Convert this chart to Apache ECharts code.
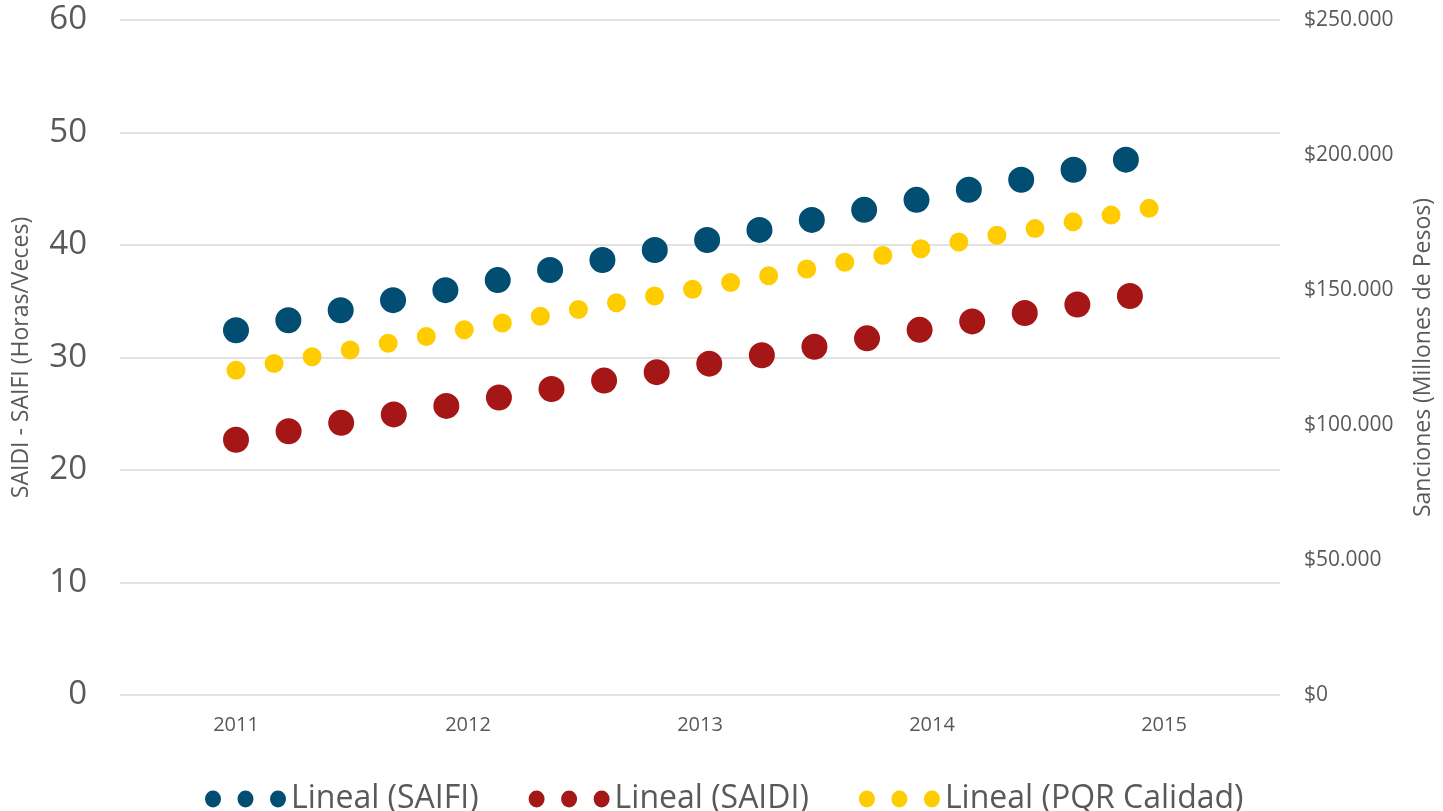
<!DOCTYPE html>
<html>
<head>
<meta charset="utf-8">
<script src="https://cdn.jsdelivr.net/npm/echarts@6/dist/echarts.min.js"></script>
<style>
html,body{margin:0;padding:0;background:#fff;}
#chart{width:1443px;height:811px;}
</style>
</head>
<body>
<div id="chart"></div>
<script>
// Categories (years)
const years = ['2011', '2012', '2013', '2014', '2015'];
// Trend line end points: [x position in category units, value]
const saifiTrend = [[0, 32.42], [3.86, 47.68]];
const saidiTrend = [[0, 22.69], [3.88, 35.55]];
const pqrTrend = [[0, 120300], [3.96, 180600]];
// Axis tick setup
const leftTicks = {min: 0, max: 60, interval: 10};
const rightTicks = {min: 0, max: 250000, interval: 50000};
const seriesNames = ['Lineal (SAIFI)', 'Lineal (SAIDI)', 'Lineal (PQR Calidad)'];

const colors = ['#024d72', '#a51616', '#ffcc00'];
const grey = '#595959';
const dotsIcon = 'path://M0,8.5A8,8.5 0 1 0 16,8.5A8,8.5 0 1 0 0,8.5Z' +
  'M32.5,8.5A8,8.5 0 1 0 48.5,8.5A8,8.5 0 1 0 32.5,8.5Z' +
  'M65,8.5A8,8.5 0 1 0 81,8.5A8,8.5 0 1 0 65,8.5Z';

function money(v) {
  return '$' + String(v).replace(/\B(?=(\d{3})+(?!\d))/g, '.');
}

const chart = echarts.init(document.getElementById('chart'), null, {renderer: 'canvas'});
chart.setOption({
  animation: false,
  backgroundColor: '#ffffff',
  textStyle: {fontFamily: 'Open Sans'},
  grid: {left: 120, right: 160, top: 20, bottom: 116, containLabel: false},
  legend: {
    left: 200, top: 774,
    itemWidth: 81, itemHeight: 17, itemGap: 50,
    textStyle: {color: grey, fontSize: 32, fontFamily: 'Open Sans', lineHeight: 40},
    data: seriesNames.map(n => ({name: n, icon: dotsIcon}))
  },
  xAxis: [{
    type: 'category', data: years, boundaryGap: true,
    axisLine: {show: false}, axisTick: {show: false},
    axisLabel: {color: grey, fontSize: 20, margin: 20, fontFamily: 'Open Sans'}
  }, {
    type: 'value', min: -0.5, max: 4.5, show: false
  }],
  yAxis: [{
    type: 'value', min: leftTicks.min, max: leftTicks.max, interval: leftTicks.interval,
    position: 'left',
    name: 'SAIDI - SAIFI (Horas/Veces)', nameLocation: 'middle', nameGap: 87,
    nameTextStyle: {color: grey, fontSize: 23, fontFamily: 'Open Sans'},
    axisLine: {show: false}, axisTick: {show: false},
    axisLabel: {color: grey, fontSize: 33, margin: 33, fontFamily: 'Open Sans'},
    splitLine: {show: true, lineStyle: {color: '#d9d9d9', width: 1.5}}
  }, {
    type: 'value', min: rightTicks.min, max: rightTicks.max, interval: rightTicks.interval,
    position: 'right',
    name: 'Sanciones (Millones de Pesos)', nameLocation: 'middle', nameGap: 132,
    nameRotate: 90,
    nameTextStyle: {color: grey, fontSize: 23, fontFamily: 'Open Sans'},
    axisLine: {show: false}, axisTick: {show: false},
    axisLabel: {color: grey, fontSize: 21, margin: 24, align: 'left', fontFamily: 'Open Sans', formatter: money},
    splitLine: {show: false}
  }],
  series: [{
    name: seriesNames[0], type: 'line', xAxisIndex: 1, yAxisIndex: 0,
    data: saifiTrend, symbol: 'none', silent: true,
    itemStyle: {color: colors[0]},
    lineStyle: {color: colors[0], width: 26, type: [0, 53.3], cap: 'round'}
  }, {
    name: seriesNames[1], type: 'line', xAxisIndex: 1, yAxisIndex: 0,
    data: saidiTrend, symbol: 'none', silent: true,
    itemStyle: {color: colors[1]},
    lineStyle: {color: colors[1], width: 26, type: [0, 53.26], cap: 'round'}
  }, {
    name: seriesNames[2], type: 'line', xAxisIndex: 1, yAxisIndex: 1,
    data: pqrTrend, symbol: 'none', silent: true,
    itemStyle: {color: colors[2]},
    lineStyle: {color: colors[2], width: 19, type: [0, 38.64], cap: 'round'}
  }]
});
</script>
</body>
</html>
